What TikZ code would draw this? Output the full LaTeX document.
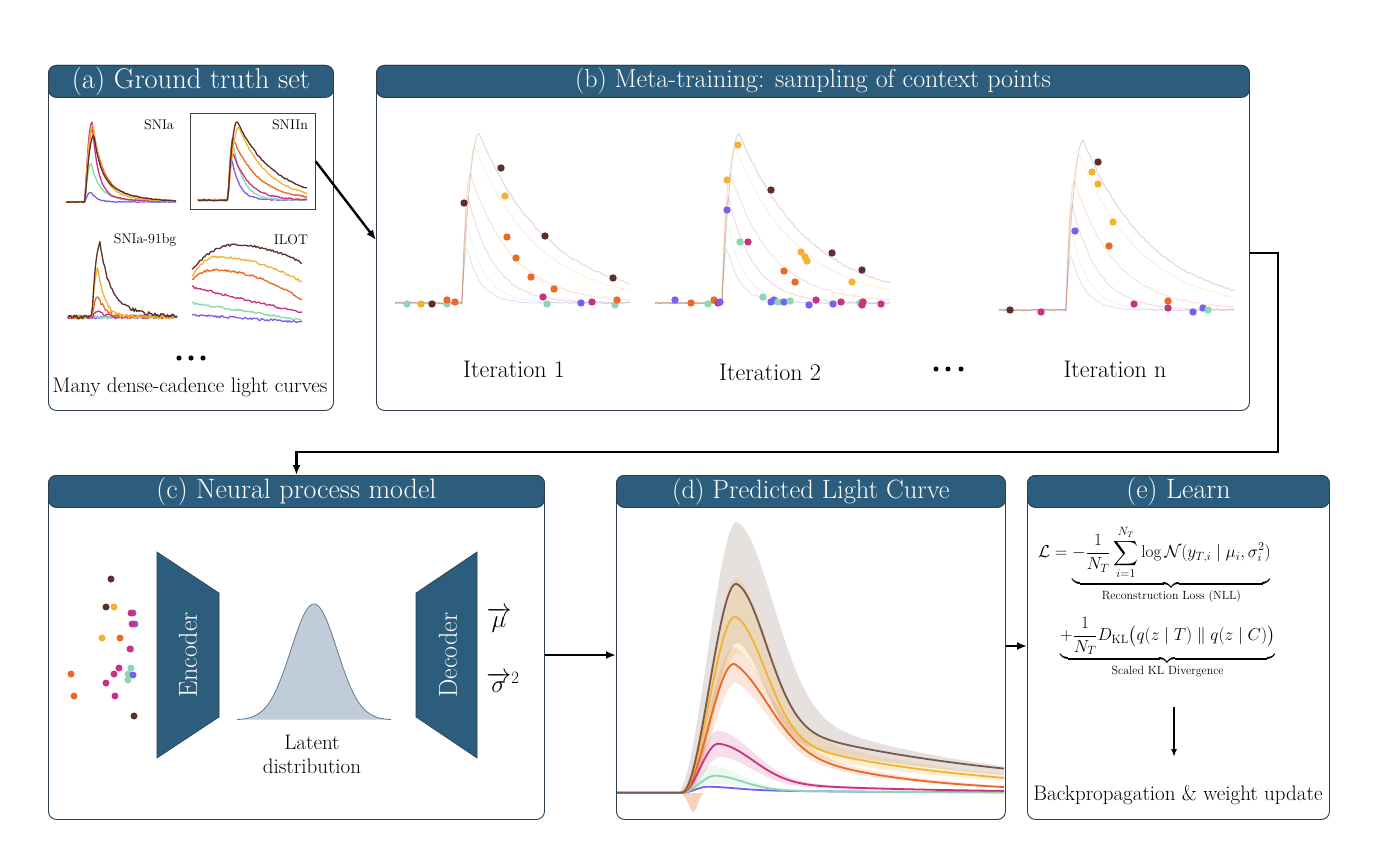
\documentclass[tikz,border=0pt]{standalone}
\usepackage{amsmath}
\usetikzlibrary{arrows.meta,calc}

\definecolor{hdrblue}{RGB}{44,93,124}
\definecolor{edge}{RGB}{45,62,78}
\definecolor{cBr}{RGB}{92,48,40}
\definecolor{cBrD}{RGB}{120,88,82}
\definecolor{cYe}{RGB}{245,178,50}
\definecolor{cOr}{RGB}{235,105,35}
\definecolor{cMa}{RGB}{200,50,128}
\definecolor{cGr}{RGB}{140,215,175}
\definecolor{cPu}{RGB}{120,95,240}
\definecolor{gaussfill}{RGB}{192,205,216}
\definecolor{gaussline}{RGB}{90,126,152}

\tikzset{
 panel/.style={draw=edge, line width=0.9pt, rounded corners=8pt, fill=white, anchor=north west, inner sep=0pt},
 hdr/.style={draw=edge, line width=0.9pt, rounded corners=8pt, fill=hdrblue, text=white, anchor=north west,
   minimum height=32pt, inner sep=0pt, font=\fontsize{27.5}{30}\selectfont},
 arr/.style={line width=2.4pt, line join=miter, -{Latex[length=10pt,width=8pt]}},
 arrthin/.style={line width=1.6pt, -{Latex[length=8pt,width=6pt]}},
 body/.style={font=\fontsize{21}{25}\selectfont, inner sep=0pt},
 iter/.style={font=\fontsize{24}{28}\selectfont, inner sep=0pt},
 small/.style={font=\fontsize{14}{16}\selectfont, inner sep=0pt},
 lc/.style={line width=1.3pt, line join=round},
 faded/.style={line width=0.9pt, opacity=0.2},
 pred/.style={line width=1.8pt},
 band/.style={opacity=0.16},
 netblock/.style={fill=hdrblue, draw=edge, line width=0.6pt},
 netlabel/.style={rotate=90, text=white, font=\fontsize{26}{30}\selectfont, inner sep=0pt},
 vecsym/.style={font=\fontsize{26}{30}\selectfont, inner sep=0pt},
}

\newcommand{\fadedcurves}{%
 \foreach \fa/\fr/\fd/\fc in {55/5/14/cPu, 80/5/18/cGr, 106/6/26/cMa, 130/8/42/cOr, 156/13/62/cYe, 170/17/70/cBr}{
   \draw[\fc, faded] plot[domain=395:630, samples=110] (\x,{303-\fa*F(\x-462,\fr,\fd,\fd,1)+0.9*rand});
 }}

\begin{document}
\begin{tikzpicture}[x=1pt,y=-1pt,
 declare function={
  Fr(\qt,\qr)=min(max(\qt,0),\qr)/\qr;
  Sq(\qt,\qd)=min(max(\qt,0),4*\qd)/\qd;
  F(\qt,\qr,\qd,\qe,\qa)=Fr(\qt,\qr)*(2-Fr(\qt,\qr))*(\qa*exp(-min(max(\qt-\qr,0)/\qd,12))+(1-\qa)*exp(-min(max(\qt-\qr,0)/\qe,12)));
  G(\qt,\qr,\qd,\qe,\qa)=Fr(\qt,\qr)*Fr(\qt,\qr)*(3-2*Fr(\qt,\qr))*(\qa*exp(-Sq(\qt-\qr,\qd)*Sq(\qt-\qr,\qd))+(1-\qa)*exp(-min(max(\qt-\qr,0)/\qe,12)));
  P(\qt,\qd)=(max(\qt,0)/\qd)*(max(\qt,0)/\qd);
 }]
\useasboundingbox (0,0) rectangle (1386,842);
\pgfmathsetseed{7}

% ---------- panels ----------
\node[panel, minimum width=285pt, minimum height=345pt] (pa) at (48,65) {};
\node[panel, minimum width=873pt, minimum height=345pt] (pb) at (376,65) {};
\node[panel, minimum width=496pt, minimum height=344pt] (pc) at (48,475) {};
\node[panel, minimum width=389pt, minimum height=344pt] (pd) at (616,475) {};
\node[panel, minimum width=302pt, minimum height=344pt] (pe) at (1027,475) {};

% ---------- panel (a) ----------
% SNIa
\foreach \fa/\fr/\fd/\fe/\fw/\fc in {10/6/6/6/1/cPu, 39/6/8/25/0.8/cGr, 80/7/6/30/0.9/cMa, 75/8/9/28/0.7/cOr, 78/8/8/25/0.75/cYe, 67/9/6/25/0.55/cBr}{
  \draw[\fc, lc] plot[domain=66:176, samples=90] (\x,{202-\fa*F(\x-85,\fr,\fd,\fe,\fw)+0.4*rand});
}
\node[small] (lsnia) at (159,125) {SNIa};
% SNIIn
\node[draw=black!75, line width=0.7pt, minimum width=125pt, minimum height=96pt, anchor=north west, inner sep=0pt] (sniin) at (190,113) {};
\foreach \fa/\fr/\fd/\fc in {40/4/8/cPu, 57/5/10/cGr, 47/5/16/cMa, 62/5/25/cOr, 73/11/29/cYe, 79/9/37/cBr}{
  \draw[\fc, lc] plot[domain=198:307, samples=90] (\x,{200-\fa*F(\x-228,\fr,\fd,\fd,1)+0.7*rand});
}
\node[small] (lsniin) at (290,125) {SNIIn};
% SNIa-91bg
\foreach \fa/\fr/\fd/\fe/\fw/\fc in {0/6/6/6/1/cPu, 0/6/6/6/1/cGr, 5/6/8/8/1/cMa, 20/6/8/8/1/cOr, 48/6/7/7/1/cYe, 74/8/9/25/0.7/cBr}{
  \draw[\fc, lc] plot[domain=68:177, samples=90] (\x,{317-\fa*F(\x-92,\fr,\fd,\fe,\fw)+1.8*rand});
}
\node[small] (lsnia91) at (145,240) {SNIa-91bg};
% ILOT
\draw[cPu, lc] plot[domain=192:302, samples=80] (\x,{315+7*(\x-192)/110+1.1*rand});
\draw[cGr, lc] plot[domain=192:302, samples=80] (\x,{303+17*(\x-192)/110+1.1*rand});
\draw[cMa, lc] plot[domain=192:302, samples=80] (\x,{287+26*(\x-192)/110+1.1*rand});
\draw[cOr, lc] plot[domain=192:302, samples=80] (\x,{270+10*P(213-\x,21)+30*P(\x-213,89)+1.1*rand});
\draw[cYe, lc] plot[domain=192:302, samples=80] (\x,{257+20*P(215-\x,23)+25*P(\x-215,87)+1.1*rand});
\draw[cBr, lc] plot[domain=192:302, samples=80] (\x,{245+25*P(233-\x,41)+18*P(\x-233,69)+1.1*rand});
\node[small] (lilot) at (291,240) {ILOT};
\foreach \px in {179,191,203} \fill (\px,358) circle[radius=2.6];
\node[body] (many) at (190,387) {Many dense-cadence light curves};

% ---------- panel (b) ----------
\fadedcurves
\begin{scope}[shift={(260,0)}] \fadedcurves \end{scope}
\begin{scope}[shift={(604,7)}] \fadedcurves \end{scope}
\foreach \fc/\px/\py in {cGr/407/304, cYe/421/304, cBr/432/304, cGr/447/304, cOr/447/300, cOr/455/302, cBr/464/203, cBr/501/168, cYe/505/196, cOr/507/237, cOr/516/258, cOr/531/277, cBr/545/236, cOr/554/289, cMa/543/297, cGr/547/304, cPu/581/303, cMa/592/302, cBr/613/278, cGr/615/305, cOr/617/300,
 cPu/675/300, cOr/691/303, cGr/708/304, cOr/714/300, cMa/718/303, cPu/720/302, cYe/738/145, cYe/727/180, cPu/727/210, cGr/740/242, cMa/748/242, cBr/771/190, cYe/801/252, cYe/805/257, cYe/807/261, cOr/784/271, cOr/795/282, cGr/763/297, cPu/771/302, cPu/774/300, cGr/778/302, cPu/784/302, cGr/790/301, cPu/809/305, cMa/816/300, cBr/832/253, cBr/862/270, cYe/852/282, cPu/833/304, cMa/841/302, cGr/860/303, cMa/863/302, cMa/862/305, cMa/881/304,
 cBr/1010/310, cMa/1041/312, cBr/1098/162, cYe/1092/172, cYe/1098/184, cYe/1113/222, cOr/1109/246, cPu/1075/231, cMa/1134/304, cOr/1168/301, cMa/1168/308, cPu/1193/312, cPu/1203/308, cGr/1208/310}
  \fill[\fc] (\px,\py) circle[radius=3.7];
\node[iter] (it1) at (514,369) {Iteration 1};
\node[iter] (it2) at (770,372) {Iteration 2};
\foreach \px in {936,948,961} \fill (\px,369) circle[radius=2.5];
\node[iter] (itn) at (1115,369) {Iteration n};

% ---------- panel (c) ----------
\foreach \fc/\px/\py in {cBr/111/579, cBr/106/607, cYe/114/607, cPu/133/613, cMa/131/613, cPu/135/624, cMa/132/624, cYe/102/638, cOr/120/638, cGr/131/649, cMa/130/649, cMa/119/668, cGr/131/668, cOr/71/674, cMa/114/674, cGr/128/674, cPu/133/675, cGr/128/680, cMa/106/683, cOr/74/696, cMa/115/696, cBr/134/716}
  \fill[\fc] (\px,\py) circle[radius=3.5];
\fill[netblock] (157,552) -- (219,593) -- (219,717) -- (157,758) -- cycle;
\node[netlabel] (enc) at (188,655) {Encoder};
\fill[gaussfill] plot[domain=237:391, samples=100] (\x,{720-116*exp(-((\x-314)/23)*((\x-314)/23)/2)}) -- cycle;
\draw[gaussline, line width=0.8pt] plot[domain=237:391, samples=100] (\x,{720-116*exp(-((\x-314)/23)*((\x-314)/23)/2)});
\node[body, align=center] (latent) at (312,754) {Latent\\[-1pt]distribution};
\fill[netblock] (416,593) -- (477,552) -- (477,758) -- (416,717) -- cycle;
\node[netlabel] (dec) at (448,655) {Decoder};
\node[vecsym] (mu) at (499,620) {$\overrightarrow{\mu}$};
\node[vecsym] (sig) at (503,682) {$\overrightarrow{\sigma}^{2}$};

% ---------- panel (d) ----------
\begin{scope}
\clip (617,508) rectangle (1004,818);
\fill[cBr, band, opacity=0.15] plot[domain=617:1004, samples=160] (\x,{792.7-271*G(\x-677,60,52,200,0.63)}) -- plot[domain=1004:617, samples=160] (\x,{792.7-150*G(\x-687,50,38,220,0.6)}) -- cycle;
\fill[cYe, band, opacity=0.2] plot[domain=617:1004, samples=160] (\x,{792.7-215*G(\x-680,56,45,185,0.63)}) -- plot[domain=1004:617, samples=160] (\x,{792.7-140*G(\x-686,52,42,180,0.63)}) -- cycle;
\fill[cOr, band] plot[domain=617:1004, samples=160] (\x,{792.7-146*G(\x-680,54,52,115,0.5)}) -- plot[domain=1004:617, samples=160] (\x,{792.7-110*G(\x-686,50,48,110,0.5)}) -- cycle;
\fill[cMa, band] plot[domain=617:1004, samples=160] (\x,{792.7-62*G(\x-678,40,50,150,0.75)}) -- plot[domain=1004:617, samples=160] (\x,{792.7-36*G(\x-686,34,45,150,0.75)}) -- cycle;
\fill[cGr, band] plot[domain=617:1004, samples=160] (\x,{792.7-27*G(\x-678,35,40,120,0.8)}) -- plot[domain=1004:617, samples=160] (\x,{792.7-9*G(\x-686,30,40,120,0.8)}) -- cycle;
\fill[cOr, opacity=0.3] (680,793) .. controls (688,796) and (690,812) .. (693,812) .. controls (697,812) and (698,797) .. (704,793) -- cycle;
\draw[cPu, pred] plot[domain=617:1004, samples=160] (\x,{792.7-6*G(\x-682,26,40,150,0.5)});
\draw[cGr, pred] plot[domain=617:1004, samples=160] (\x,{792.7-17*G(\x-682,33,40,120,0.8)});
\draw[cMa, pred] plot[domain=617:1004, samples=160] (\x,{792.7-49*G(\x-682,36,50,150,0.75)});
\draw[cOr, pred] plot[domain=617:1004, samples=160] (\x,{792.7-129*G(\x-682,52,50,110,0.49)});
\draw[cYe, pred] plot[domain=617:1004, samples=160] (\x,{792.7-176*G(\x-682,53,43,182,0.63)});
\draw[cBrD, pred] plot[domain=617:1004, samples=160] (\x,{792.7-209*G(\x-682,54,43,230,0.63)});
\end{scope}

% ---------- panel (e) ----------
\node[anchor=west, inner sep=0pt, font=\fontsize{17}{20}\selectfont] (loss1) at (1038,565)
 {$\displaystyle \mathcal{L} = \underbrace{-\frac{1}{N_T}\sum_{i=1}^{N_T}\log\mathcal{N}(y_{T,i}\mid\mu_i,\sigma_i^2)}_{\text{Reconstruction Loss (NLL)}}$};
\node[anchor=west, inner sep=0pt, font=\fontsize{17}{20}\selectfont] (loss2) at (1060,648)
 {$\displaystyle \underbrace{+\frac{1}{N_T}D_{\mathrm{KL}}\big(q(z\mid T)\parallel q(z\mid C)\big)}_{\text{Scaled KL Divergence}}$};
\coordinate (ebeg) at (1174,707);
\coordinate (eend) at (1174,757);
\draw[arrthin] (ebeg) -- (eend);
\node[body] (bp) at (1178,795) {Backpropagation \& weight update};

% ---------- headers ----------
\node[hdr, minimum width=285pt, font=\fontsize{28.5}{30}\selectfont] (ha) at (48,65) {(a) Ground truth set};
\node[hdr, minimum width=873pt, font=\fontsize{26}{30}\selectfont] (hb) at (376,65) {(b) Meta-training: sampling of context points};
\node[hdr, minimum width=496pt, font=\fontsize{28}{30}\selectfont] (hc) at (48,475) {(c) Neural process model};
\node[hdr, minimum width=389pt, font=\fontsize{26.5}{30}\selectfont] (hd) at (616,475) {(d) Predicted Light Curve};
\node[hdr, minimum width=302pt, font=\fontsize{28}{30}\selectfont] (he) at (1027,475) {(e) Learn};

% ---------- connectors ----------
\coordinate (bend) at (1278,452);
\draw[arr] (sniin.east) -- (pb.west |- 0,240);
\draw[arr] (pb.east |- 0,253) -| (bend) -| (hc.north);
\draw[arr] (pc.east |- 0,655) -- (pd.west |- 0,655);
\draw[arr] (pd.east |- 0,646) -- (pe.west |- 0,646);
\end{tikzpicture}
\end{document}
